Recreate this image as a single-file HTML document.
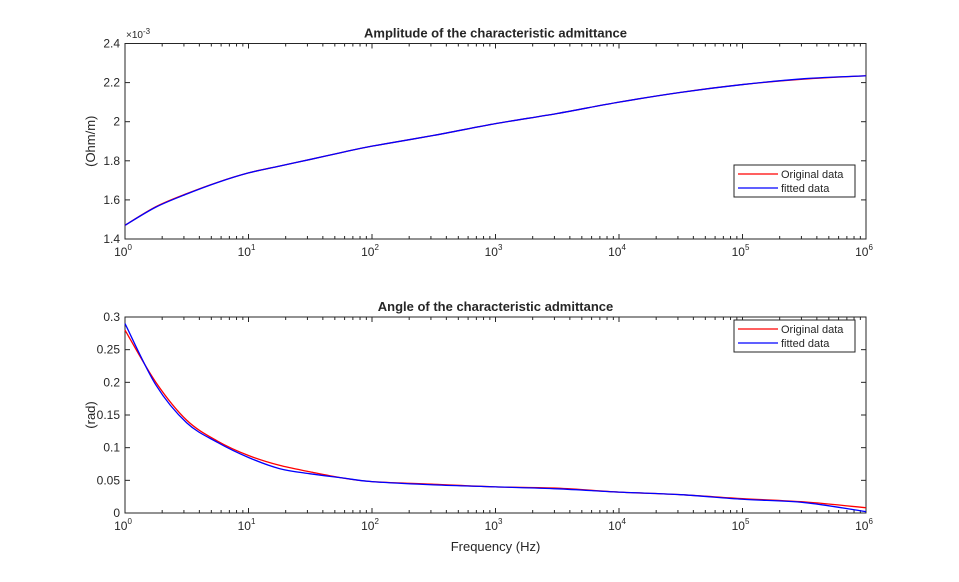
<!DOCTYPE html>
<html><head><meta charset="utf-8"><style>
body{margin:0;background:#fff;}
svg text{font-family:"Liberation Sans",Arial,sans-serif;fill:#262626;}
</style></head><body>
<svg id="c" width="959" height="577" viewBox="0 0 959 577"></svg>
<script>
const logFreq=[0,0.25,0.5,0.75,1,1.25,1.5,1.75,2,2.5,3,3.5,4,4.5,5,5.5,6];
const ampOrig=[1.47,1.565,1.632,1.69,1.738,1.773,1.807,1.842,1.875,1.93,1.99,2.042,2.10,2.15,2.19,2.218,2.235];
const ampFit=[1.47,1.563,1.630,1.689,1.738,1.773,1.807,1.842,1.875,1.93,1.99,2.042,2.10,2.15,2.19,2.22,2.235];
const angOrig=[0.28,0.20,0.142,0.110,0.088,0.073,0.063,0.054,0.048,0.044,0.040,0.038,0.032,0.028,0.022,0.017,0.008];
const angFit=[0.29,0.196,0.138,0.108,0.085,0.068,0.060,0.054,0.048,0.043,0.040,0.037,0.032,0.028,0.021,0.016,0.002];
const ampTicks=[1.4,1.6,1.8,2,2.2,2.4];
const angTicks=[0,0.05,0.1,0.15,0.2,0.25,0.3];
const decades=[0,1,2,3,4,5,6];
const svg=document.getElementById('c');const NS='http://www.w3.org/2000/svg';
function mk(t,a,p){const e=document.createElementNS(NS,t);for(const k in a)e.setAttribute(k,a[k]);(p||svg).appendChild(e);return e;}
const X0=125,X1=866;
function xs(l){return X0+(l/6)*(X1-X0);}
function path(xv,yv,fx,fy){const p=xv.map((v,i)=>[fx(v),fy(yv[i])]);let d='M'+p[0][0]+','+p[0][1];
for(let i=0;i<p.length-1;i++){const a=p[i-1]||p[i],b=p[i],c=p[i+1],e=p[i+2]||c;
d+=` C${b[0]+(c[0]-a[0])/6},${b[1]+(c[1]-a[1])/6} ${c[0]-(e[0]-b[0])/6},${c[1]-(e[1]-b[1])/6} ${c[0]},${c[1]}`;}return d;}
function axes(name,top,bot,ymin,ymax,yt,title,ylab,s1,s2,legY,xlab){
 const g=mk('g',{});
 const ys=v=>bot-(v-ymin)/(ymax-ymin)*(bot-top);
 mk('rect',{x:X0,y:top,width:X1-X0,height:bot-top,fill:'#fff',stroke:'#262626','stroke-width':1},g);
 yt.forEach(v=>{const y=ys(v);mk('line',{x1:X0,x2:X0+5,y1:y,y2:y,stroke:'#262626'},g);mk('line',{x1:X1,x2:X1-5,y1:y,y2:y,stroke:'#262626'},g);
  const t=mk('text',{x:X0-5,y:y+4,'text-anchor':'end','font-size':12},g);t.textContent=String(v);});
 decades.forEach(d=>{const x=xs(d);mk('line',{x1:x,x2:x,y1:bot,y2:bot-5,stroke:'#262626'},g);mk('line',{x1:x,x2:x,y1:top,y2:top+5,stroke:'#262626'},g);
  if(d<6)for(let m=2;m<10;m++){const xm=xs(d+Math.log10(m));mk('line',{x1:xm,x2:xm,y1:bot,y2:bot-3,stroke:'#262626'},g);mk('line',{x1:xm,x2:xm,y1:top,y2:top+3,stroke:'#262626'},g);}
  const t=mk('text',{x:x-2,y:bot+17,'text-anchor':'middle','font-size':12},g);
  t.innerHTML='10<tspan dy="-6" font-size="8">'+d+'</tspan>';});
 const tt=mk('text',{x:(X0+X1)/2,y:top-6,'text-anchor':'middle','font-size':13,'font-weight':'bold',fill:'#000'},g);tt.textContent=title;
 const yl=mk('text',{x:0,y:0,'text-anchor':'middle','font-size':13,transform:`translate(${X0-30},${(top+bot)/2}) rotate(-90)`},g);yl.textContent=ylab;
 if(xlab){const xl=mk('text',{x:(X0+X1)/2,y:bot+38,'text-anchor':'middle','font-size':13},g);xl.textContent=xlab;}
 const p1=mk('path',{d:path(logFreq,s1,xs,ys),fill:'none',stroke:'#ff0000','stroke-width':1.3},g);
 const p2=mk('path',{d:path(logFreq,s2,xs,ys),fill:'none',stroke:'#0000ff','stroke-width':1.3},g);
 const lg=mk('g',{},g);
 mk('rect',{x:734,y:legY,width:121,height:32,fill:'#fff',stroke:'#262626'},lg);
 mk('line',{x1:738,x2:778,y1:legY+9,y2:legY+9,stroke:'#ff0000','stroke-width':1.3},lg);
 mk('line',{x1:738,x2:778,y1:legY+23,y2:legY+23,stroke:'#0000ff','stroke-width':1.3},lg);
 const a=mk('text',{x:781,y:legY+13,'font-size':11,fill:'#000'},lg);a.textContent='Original data';
 const b=mk('text',{x:781,y:legY+27,'font-size':11,fill:'#000'},lg);b.textContent='fitted data';
}
axes('amplitude-axes',43.5,239,1.4,2.4,ampTicks,'Amplitude of the characteristic admittance','(Ohm/m)',ampOrig,ampFit,165,null);
const ex=mk('text',{x:126,y:38,'font-size':10});ex.innerHTML='×10<tspan dy="-4" font-size="8">-3</tspan>';

axes('angle-axes',317,513,0,0.3,angTicks,'Angle of the characteristic admittance','(rad)',angOrig,angFit,320,'Frequency (Hz)');
</script>
</body></html>
